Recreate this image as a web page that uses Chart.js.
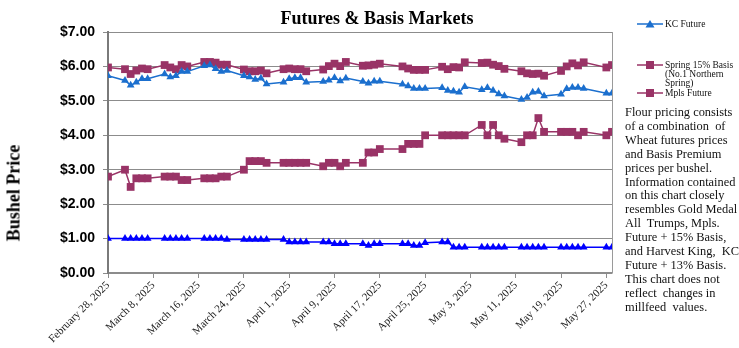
<!DOCTYPE html>
<html>
<head>
<meta charset="utf-8">
<script src="https://cdn.jsdelivr.net/npm/chart.js@4.4.1/dist/chart.umd.min.js"></script>
<style>
  html, body { margin: 0; padding: 0; background: #fff; }
  #wrap { position: relative; width: 739px; height: 348px; overflow: hidden; }
  #chart { position: absolute; left: 0; top: 0; }
  .title { position: absolute; left: 257px; top: 8px; width: 240px; text-align: center;
           font: bold 18px "Liberation Serif", "Times New Roman", serif; white-space: nowrap; }
  .ytitle { position: absolute; left: 14px; top: 193px; transform: translate(-50%, -50%) rotate(-90deg);
            font: bold 18px "Liberation Serif", "Times New Roman", serif; white-space: nowrap; }
  .leg { position: absolute; left: 637px; font: 9.5px/9px "Liberation Serif", "Times New Roman", serif; color: #111; }
  .leg svg { position: absolute; left: 0; top: 0; }
  .leg span { position: absolute; left: 28px; top: 1px; white-space: pre; }
  .note { position: absolute; left: 625px; top: 106px; font: 12.4px/13.9px "Liberation Serif", "Times New Roman", serif;
          color: #111; white-space: pre; }
</style>
</head>
<body>
<div id="wrap">
  <canvas id="chart" width="739" height="348"></canvas>
  <div class="title">Futures &amp; Basis Markets</div>
  <div class="ytitle">Bushel Price</div>

  <div class="leg" style="top:19px">
    <svg width="26" height="10"><line x1="0" y1="5" x2="26" y2="5" stroke="#1b6fce" stroke-width="1.5"/><polygon points="13,1 17.5,8.5 8.5,8.5" fill="#1b6fce"/></svg>
    <span>KC Future</span>
  </div>
  <div class="leg" style="top:60px">
    <svg width="26" height="10"><line x1="0" y1="5" x2="26" y2="5" stroke="#993366" stroke-width="1.5"/><rect x="9" y="1" width="8" height="8" fill="#993366"/></svg>
    <span>Spring 15% Basis
(No.1 Northern
Spring)</span>
  </div>
  <div class="leg" style="top:88px">
    <svg width="26" height="10"><line x1="0" y1="5" x2="26" y2="5" stroke="#993366" stroke-width="1.5"/><rect x="9" y="1" width="8" height="8" fill="#993366"/></svg>
    <span>Mpls Future</span>
  </div>

  <div class="note">Flour pricing consists
of a combination  of
Wheat futures prices
and Basis Premium
prices per bushel.
Information contained
on this chart closely
resembles Gold Medal
All  Trumps, Mpls.
Future + 15% Basis,
and Harvest King,  KC
Future + 13% Basis.
This chart does not
reflect  changes in
millfeed  values.</div>
</div>

<script>
// trading days shown on the chart
const tradeDates = [
  '2025-02-28',
  '2025-03-03', '2025-03-04', '2025-03-05', '2025-03-06', '2025-03-07',
  '2025-03-10', '2025-03-11', '2025-03-12', '2025-03-13', '2025-03-14',
  '2025-03-17', '2025-03-18', '2025-03-19', '2025-03-20', '2025-03-21',
  '2025-03-24', '2025-03-25', '2025-03-26', '2025-03-27', '2025-03-28',
  '2025-03-31', '2025-04-01', '2025-04-02', '2025-04-03', '2025-04-04',
  '2025-04-07', '2025-04-08', '2025-04-09', '2025-04-10', '2025-04-11',
  '2025-04-14', '2025-04-15', '2025-04-16', '2025-04-17',
  '2025-04-21', '2025-04-22', '2025-04-23', '2025-04-24', '2025-04-25',
  '2025-04-28', '2025-04-29', '2025-04-30', '2025-05-01', '2025-05-02',
  '2025-05-05', '2025-05-06', '2025-05-07', '2025-05-08', '2025-05-09',
  '2025-05-12', '2025-05-13', '2025-05-14', '2025-05-15', '2025-05-16',
  '2025-05-19', '2025-05-20', '2025-05-21', '2025-05-22', '2025-05-23',
  '2025-05-27', '2025-05-28'
];

const kcFuture = [
  5.73,
  5.59, 5.45, 5.54, 5.64, 5.64,
  5.78, 5.69, 5.73, 5.85, 5.85,
  6.02, 6.04, 5.93, 5.85, 5.88,
  5.73, 5.69, 5.62, 5.66, 5.49,
  5.54, 5.64, 5.67, 5.67, 5.54,
  5.56, 5.60, 5.67, 5.58, 5.66,
  5.56, 5.51, 5.57, 5.57,
  5.48, 5.43, 5.36, 5.36, 5.36,
  5.38, 5.30, 5.28, 5.25, 5.41,
  5.32, 5.38, 5.30, 5.20, 5.14,
  5.04, 5.10, 5.25, 5.27, 5.14,
  5.19, 5.35, 5.39, 5.39, 5.36,
  5.22, 5.22
];

const springBasis = [
  2.80,
  3.00, 2.50, 2.75, 2.75, 2.75,
  2.80, 2.80, 2.80, 2.70, 2.70,
  2.75, 2.75, 2.75, 2.80, 2.80,
  3.00, 3.25, 3.25, 3.25, 3.20,
  3.20, 3.20, 3.20, 3.20, 3.20,
  3.10, 3.20, 3.20, 3.10, 3.20,
  3.20, 3.50, 3.50, 3.60,
  3.60, 3.75, 3.75, 3.75, 4.00,
  4.00, 4.00, 4.00, 4.00, 4.00,
  4.30, 4.00, 4.30, 4.00, 3.90,
  3.80, 4.00, 4.00, 4.50, 4.10,
  4.10, 4.10, 4.10, 4.00, 4.10,
  4.00, 4.10
];

const mplsFuture = [
  5.97,
  5.92, 5.78, 5.88, 5.94, 5.92,
  6.04, 5.97, 5.92, 6.04, 6.00,
  6.13, 6.13, 6.11, 6.05, 6.05,
  5.91, 5.86, 5.86, 5.88, 5.80,
  5.92, 5.94, 5.92, 5.92, 5.86,
  5.91, 6.01, 6.08, 6.01, 6.13,
  6.02, 6.03, 6.05, 6.08,
  6.00, 5.94, 5.90, 5.90, 5.90,
  5.99, 5.92, 5.98, 5.97, 6.12,
  6.10, 6.11, 6.05, 6.01, 5.93,
  5.86, 5.80, 5.78, 5.79, 5.73,
  5.87, 6.00, 6.09, 6.03, 6.12,
  5.97, 6.04
];

// KC 13% basis, drawn but not listed in the legend
const kcBasis = [
  1.00,
  1.00, 1.00, 1.00, 1.00, 1.00,
  1.00, 1.00, 1.00, 1.00, 1.00,
  1.00, 1.00, 1.00, 1.00, 0.97,
  0.97, 0.97, 0.97, 0.97, 0.97,
  0.97, 0.90, 0.90, 0.90, 0.90,
  0.90, 0.90, 0.85, 0.85, 0.85,
  0.85, 0.80, 0.85, 0.85,
  0.85, 0.85, 0.80, 0.80, 0.88,
  0.90, 0.90, 0.75, 0.75, 0.75,
  0.75, 0.75, 0.75, 0.75, 0.75,
  0.75, 0.75, 0.75, 0.75, 0.75,
  0.75, 0.75, 0.75, 0.75, 0.75,
  0.75, 0.75
];

const tickDates = [
  '2025-02-28', '2025-03-08', '2025-03-16', '2025-03-24', '2025-04-01', '2025-04-09',
  '2025-04-17', '2025-04-25', '2025-05-03', '2025-05-11', '2025-05-19', '2025-05-27'
];
const yTicks = [0, 1, 2, 3, 4, 5, 6, 7];
const monthNames = ['January', 'February', 'March', 'April', 'May', 'June',
  'July', 'August', 'September', 'October', 'November', 'December'];

const START = Date.UTC(2025, 1, 28);
const DAY = 86400000;

function dayOf(s) {
  const [y, m, d] = s.split('-').map(Number);
  return (Date.UTC(y, m - 1, d) - START) / DAY;
}

function dateLabel(v) {
  const d = new Date(START + v * DAY);
  return monthNames[d.getUTCMonth()] + ' ' + d.getUTCDate() + ', ' + d.getUTCFullYear();
}

function series(vals) {
  return vals.map((v, i) => ({ x: dayOf(tradeDates[i]), y: v }));
}

// right edge of the plot frame in light grey
const plotFrame = {
  id: 'plotFrame',
  beforeDatasetsDraw(chart) {
    const a = chart.chartArea;
    const ctx = chart.ctx;
    ctx.save();
    ctx.strokeStyle = '#9a9a9a';
    ctx.lineWidth = 1;
    ctx.beginPath();
    ctx.moveTo(a.right + 0.5, a.top);
    ctx.lineTo(a.right + 0.5, a.bottom);
    ctx.stroke();
    ctx.restore();
  }
};

const MAUVE = '#993366';
const KCBLUE = '#1b6fce';
const BLUE = '#0000ff';

new Chart(document.getElementById('chart'), {
  type: 'line',
  data: {
    datasets: [
      {
        label: 'KC Future', data: series(kcFuture),
        borderColor: KCBLUE, backgroundColor: KCBLUE, borderWidth: 1.5,
        pointStyle: 'triangle', pointRadius: 4.5, pointBorderWidth: 0
      },
      {
        label: 'Spring 15% Basis (No.1 Northern Spring)', data: series(springBasis),
        borderColor: MAUVE, backgroundColor: MAUVE, borderWidth: 1.5,
        pointStyle: 'rect', pointRadius: 5.5, pointBorderWidth: 0
      },
      {
        label: 'Mpls Future', data: series(mplsFuture),
        borderColor: MAUVE, backgroundColor: MAUVE, borderWidth: 1.5,
        pointStyle: 'rect', pointRadius: 5.5, pointBorderWidth: 0
      },
      {
        label: 'KC 13% Basis', data: series(kcBasis),
        borderColor: BLUE, backgroundColor: BLUE, borderWidth: 1.5,
        pointStyle: 'triangle', pointRadius: 4.5, pointBorderWidth: 0
      }
    ]
  },
  options: {
    responsive: false,
    animation: false,
    devicePixelRatio: 1,
    layout: { padding: { top: 32, right: 127, bottom: 0, left: 0 } },
    plugins: {
      legend: { display: false },
      tooltip: { enabled: false },
      title: { display: false }
    },
    scales: {
      x: {
        type: 'linear',
        min: 0,
        max: dayOf('2025-05-28'),
        afterBuildTicks: (scale) => { scale.ticks = tickDates.map(s => ({ value: dayOf(s) })); },
        afterFit: (scale) => { scale.height = 75; },
        grid: { drawOnChartArea: false, color: '#8c8c8c', tickLength: 5 },
        border: { color: '#8c8c8c', width: 1.5 },
        ticks: {
          autoSkip: false, minRotation: 45, maxRotation: 45, padding: 1,
          color: '#1a1a1a',
          font: { family: '"Liberation Serif", "Times New Roman", serif', size: 11 },
          callback: (v) => dateLabel(v)
        }
      },
      y: {
        min: 0,
        max: 7,
        afterBuildTicks: (scale) => { scale.ticks = yTicks.map(v => ({ value: v })); },
        afterFit: (scale) => { scale.width = 108; },
        grid: { color: '#8c8c8c', lineWidth: 1, tickLength: 5 },
        border: { color: '#7a7a7a', width: 2 },
        ticks: {
          padding: 8,
          color: '#000',
          font: { family: '"Liberation Sans", Arial, sans-serif', size: 14, weight: 'bold' },
          callback: (v) => '$' + v.toFixed(2)
        }
      }
    }
  },
  plugins: [plotFrame]
});
</script>
</body>
</html>
